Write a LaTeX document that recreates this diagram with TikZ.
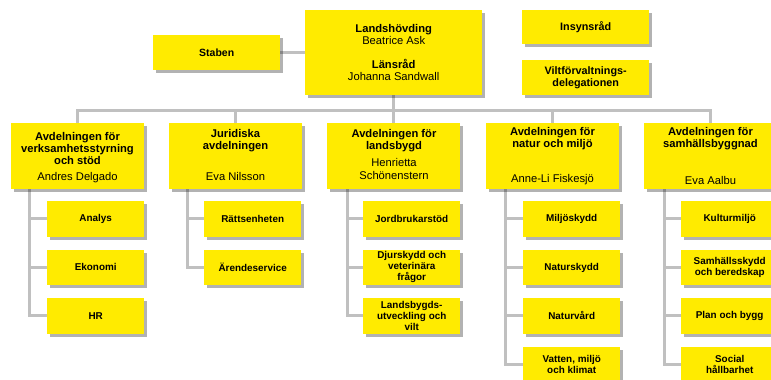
\documentclass[tikz,border=0pt]{standalone}
\usepackage{fontspec}
\setmainfont{Liberation Sans}
\usetikzlibrary{shadows,backgrounds}
\definecolor{lsyellow}{RGB}{255,235,0}
\definecolor{lsgray}{RGB}{192,192,192}

\begin{document}
\begin{tikzpicture}[x=1pt,y=-1pt,
    box/.style={fill=lsyellow,inner sep=0pt,anchor=north west,align=center,
        drop shadow={shadow xshift=3pt,shadow yshift=-3pt,opacity=0.3,fill=black}},
    topbox/.style={box,minimum width=127pt,font=\bfseries\fontsize{10.8}{11.5}\selectfont},
    dept/.style={box,minimum width=133pt,minimum height=66pt},
    sub/.style={box,minimum width=97pt,minimum height=35.5pt,font=\bfseries\fontsize{9.9}{11}\selectfont},
    dtitle/.style={align=center,inner sep=0pt,font=\bfseries\fontsize{11.2}{12}\selectfont},
    dname/.style={align=center,inner sep=0pt,font=\fontsize{11.2}{12.5}\selectfont},
    link/.style={draw=lsgray,line width=3pt}]
    \useasboundingbox (0,0) rectangle (771,380);

    % top level
    \node[box,minimum width=177pt,minimum height=85pt,font=\fontsize{11.2}{12.5}\selectfont] (lh) at (305,10)
        {\textbf{Landshövding}\\Beatrice Ask\\[11pt]\textbf{Länsråd}\\Johanna Sandwall};
    \node[topbox,minimum height=35pt,font=\bfseries\fontsize{10.5}{11.5}\selectfont] (st) at (153,35) {Staben};
    \node[topbox,minimum height=34pt] (ins) at (522,10) {Insynsråd};
    \node[topbox,minimum height=35pt] (vilt) at (522,60) {Viltförvaltnings-\\delegationen};

    % avdelningar
    \node[dept] (d1) at (11,123) {};
    \node[dept] (d2) at (169,123) {};
    \node[dept] (d3) at (327,123) {};
    \node[dept] (d4) at (486,123) {};
    \node[dept] (d5) at (644,123) {};
    \node[dtitle] (d1t) at (77.5,148) {Avdelningen för\\verksamhetsstyrning\\och stöd};
    \node[dname] (d1n) at (77.5,178) {Andres Delgado};
    \node[dtitle] (d2t) at (235.5,140.5) {Juridiska\\avdelningen};
    \node[dname] (d2n) at (235.5,176) {Eva Nilsson};
    \node[dtitle] (d3t) at (394,140.5) {Avdelningen för\\landsbygd};
    \node[dname] (d3n) at (394,169) {Henrietta\\Schönenstern};
    \node[dtitle] (d4t) at (552.5,139) {Avdelningen för\\natur och miljö};
    \node[dname] (d4n) at (552.5,180) {Anne-Li Fiskesjö};
    \node[dtitle] (d5t) at (710.5,139) {Avdelningen för\\samhällsbyggnad};
    \node[dname] (d5n) at (710.5,180) {Eva Aalbu};

    % enheter
    \node[sub] (s11) at (47,201) {Analys};
    \node[sub] (s12) at (47,249.5) {Ekonomi};
    \node[sub] (s13) at (47,298) {HR};
    \node[sub] (s21) at (204,201) {Rättsenheten};
    \node[sub] (s22) at (204,249.5) {Ärendeservice};
    \node[sub] (s31) at (363,201) {Jordbrukarstöd};
    \node[sub] (s32) at (363,249.5) {Djurskydd och\\veterinära\\frågor};
    \node[sub] (s33) at (363,298) {Landsbygds-\\utveckling och\\vilt};
    \node[sub] (s41) at (523,201) {Miljöskydd};
    \node[sub] (s42) at (523,249.5) {Naturskydd};
    \node[sub] (s43) at (523,298) {Naturvård};
    \node[sub] (s44) at (523,347) {Vatten, miljö\\och klimat};
    \node[sub] (s51) at (681,201) {Kulturmiljö};
    \node[sub] (s52) at (681,249.5) {Samhällsskydd\\och beredskap};
    \node[sub] (s53) at (681,298) {Plan och bygg};
    \node[sub] (s54) at (681,347) {Social\\hållbarhet};

    \begin{scope}[on background layer]
        \coordinate (bus) at (393.5,110);
        \draw[link] (st.east) -- (lh.west |- st.east);
        \draw[link] (lh.south) -- (lh.south |- bus);
        \draw[link] (d1.north) -- (d1.north |- bus) -- (d5.north |- bus) -- (d5.north);
        \foreach \d in {d2,d3,d4}
            \draw[link] (\d.north) -- (\d.north |- bus);
        % stammar
        \coordinate (d1v) at ([xshift=18pt]d1.south west);
        \coordinate (d2v) at ([xshift=18pt]d2.south west);
        \coordinate (d3v) at ([xshift=20pt]d3.south west);
        \coordinate (d4v) at ([xshift=19pt]d4.south west);
        \coordinate (d5v) at ([xshift=20pt]d5.south west);
        \draw[link] (d1v) |- (s13.west);
        \draw[link] (d2v) |- (s22.west);
        \draw[link] (d3v) |- (s33.west);
        \draw[link] (d4v) |- (s44.west);
        \draw[link] (d5v) |- (s54.west);
        \foreach \s/\v in {s11/d1v,s12/d1v,s21/d2v,s31/d3v,s32/d3v,s41/d4v,s42/d4v,s43/d4v,s51/d5v,s52/d5v,s53/d5v}
            \draw[link] (\s.west) -- (\s.west -| \v);
    \end{scope}
\end{tikzpicture}
\end{document}
